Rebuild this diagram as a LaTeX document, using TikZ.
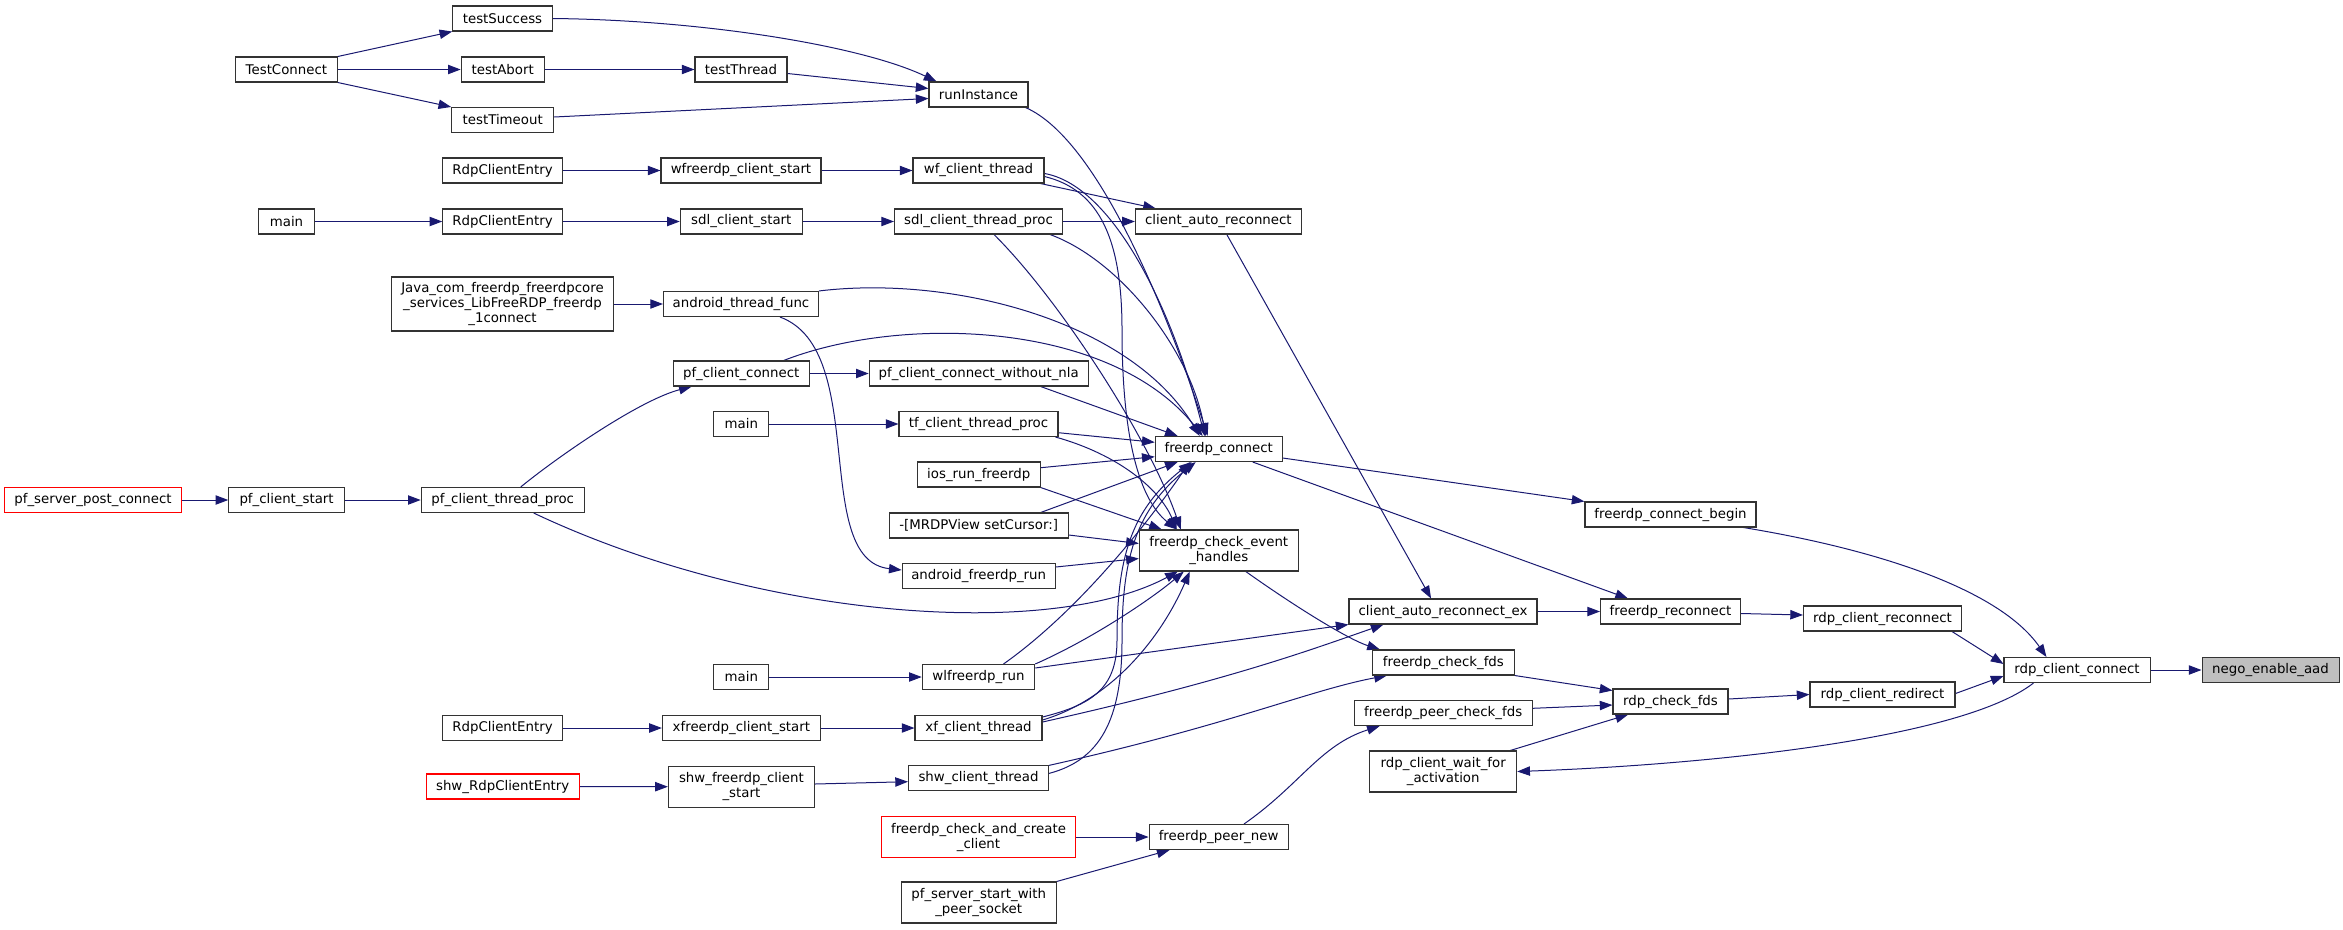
\documentclass[tikz,border=0pt]{standalone}
\usepackage{fontspec}
\setmainfont{DejaVu Sans}
\usetikzlibrary{arrows.meta,calc}
\definecolor{edgeblue}{HTML}{191970}
\definecolor{nodeborder}{HTML}{333333}
\definecolor{hifill}{HTML}{BFBFBF}
\pgfdeclarelayer{bg}
\pgfsetlayers{bg,main}
\tikzset{
  box/.style={draw=nodeborder, line width=0.8pt, fill=white, minimum height=18.75pt,
    inner sep=1pt, font=\fontsize{10pt}{11.25pt}\selectfont, align=center, text=black},
  redbox/.style={box, draw=red},
  bw/.style={minimum width=#1*0.75pt},
  tall/.style={minimum height=30.75pt},
  arr/.style={draw=edgeblue, line width=0.75pt, -{Triangle[length=9.5pt,width=7pt]}},
}
\begin{document}
\begin{tikzpicture}[x=0.75pt,y=-0.75pt]
\useasboundingbox (0,0) rectangle (2343,929);
% column 0/1
\node[redbox,bw=177] (psp) at (93,500) {pf\_server\_post\_connect};
\node[box,bw=102] (tconn) at (286.4,69.5) {TestConnect};
\node[box,bw=55.5] (mainA) at (286.5,221.5) {main};
\node[box,bw=115.6] (pcs) at (286.6,500) {pf\_client\_start};
% column 2
\node[box,bw=99.5] (tsucc) at (502.5,18.5) {testSuccess};
\node[box,bw=83] (tabort) at (502.7,69.5) {testAbort};
\node[box,bw=102] (ttime) at (502.7,120) {testTimeout};
\node[box,bw=119.4] (rceA) at (502.5,170.5) {RdpClientEntry};
\node[box,bw=119.4] (rceB) at (502.5,221.5) {RdpClientEntry};
\node[box,bw=222,minimum height=40.5pt] (java) at (502.5,304) {Java\_com\_freerdp\_freerdpcore\\\_services\_LibFreeRDP\_freerdp\\\_1connect};
\node[box,bw=163] (pctp) at (502.7,500) {pf\_client\_thread\_proc};
\node[box,bw=119.4] (rceC) at (502.5,728) {RdpClientEntry};
\node[redbox,bw=153] (shwrce) at (502.7,786.5) {shw\_RdpClientEntry};
% column 3
\node[box,bw=92] (tthread) at (741,69.5) {testThread};
\node[box,bw=160] (wfcs) at (741,170.5) {wfreerdp\_client\_start};
\node[box,bw=122] (sdlcs) at (741.3,221.5) {sdl\_client\_start};
\node[box,bw=155] (atf) at (741,304) {android\_thread\_func};
\node[box,bw=136] (pcc) at (741.2,373.5) {pf\_client\_connect};
\node[box,bw=55] (mainC) at (741.3,424) {main};
\node[box,bw=55] (mainB) at (741.3,677) {main};
\node[box,bw=158] (xfcs) at (741.4,728) {xfreerdp\_client\_start};
\node[box,bw=146,tall] (shwfcs) at (741.4,786.7) {shw\_freerdp\_client\\\_start};
% column 4
\node[box,bw=99] (runi) at (978.5,94.5) {runInstance};
\node[box,bw=131] (wfct) at (978.5,170.5) {wf\_client\_thread};
\node[box,bw=168] (sdlct) at (978.5,221.5) {sdl\_client\_thread\_proc};
\node[box,bw=219] (pcwn) at (978.7,373.5) {pf\_client\_connect\_without\_nla};
\node[box,bw=159] (tfct) at (978.5,424) {tf\_client\_thread\_proc};
\node[box,bw=123] (ios) at (978.7,474.5) {ios\_run\_freerdp};
\node[box,bw=179] (mrdp) at (978.7,525.5) {-[MRDPView setCursor:]};
\node[box,bw=153] (afr) at (978.7,576) {android\_freerdp\_run};
\node[box,bw=112.5] (wl) at (978.5,677) {wlfreerdp\_run};
\node[box,bw=127] (xfct) at (978.5,728) {xf\_client\_thread};
\node[box,bw=140] (shwct) at (978.5,778.4) {shw\_client\_thread};
\node[redbox,bw=194,tall] (fcacc) at (978.5,837) {freerdp\_check\_and\_create\\\_client};
\node[box,bw=155,tall] (pssp) at (978.7,902.5) {pf\_server\_start\_with\\\_peer\_socket};
% column 5
\node[box,bw=166] (car) at (1218.4,221.5) {client\_auto\_reconnect};
\node[box,bw=127] (fc) at (1218.7,449) {freerdp\_connect};
\node[box,bw=159,tall] (ceh) at (1218.8,550.5) {freerdp\_check\_event\\\_handles};
\node[box,bw=139] (fpn) at (1218.6,837) {freerdp\_peer\_new};
% column 6
\node[box,bw=188] (care) at (1443,611.5) {client\_auto\_reconnect\_ex};
\node[box,bw=142] (cfds) at (1443.4,662.5) {freerdp\_check\_fds};
\node[box,bw=178] (fpcf) at (1443.2,713) {freerdp\_peer\_check\_fds};
\node[box,bw=147,tall] (rcwfa) at (1443.2,771.5) {rdp\_client\_wait\_for\\\_activation};
% column 7
\node[box,bw=171] (fcb) at (1670.5,514.5) {freerdp\_connect\_begin};
\node[box,bw=140] (frc) at (1670.5,611.5) {freerdp\_reconnect};
\node[box,bw=115] (rcf) at (1670.5,701.5) {rdp\_check\_fds};
% column 8+
\node[box,bw=158] (rcr) at (1882.5,618.5) {rdp\_client\_reconnect};
\node[box,bw=145] (rcred) at (1882.5,694.5) {rdp\_client\_redirect};
\node[box,bw=146] (rcc) at (2077,670) {rdp\_client\_connect};
\node[box,bw=137,fill=hifill] (nego) at (2270.5,670) {nego\_enable\_aad};

\begin{pgfonlayer}{bg}
% test group
\draw[arr] (tconn.north east) -- (tsucc.south west);
\draw[arr] (tconn.east) -- (tabort.west);
\draw[arr] (tconn.south east) -- (ttime.north west);
\draw[arr] (tsucc.east) .. controls (700,20) and (860,45) .. ($(runi.north west)+(8,0)$);
\draw[arr] (tabort.east) -- (tthread.west);
\draw[arr] ($(tthread.east)+(0,4)$) -- ($(runi.west)+(0,-6)$);
\draw[arr] ($(ttime.east)+(0,-3)$) -- ($(runi.west)+(0,4)$);
% chains
\draw[arr] (rceA.east) -- (wfcs.west);
\draw[arr] (mainA.east) -- (rceB.west);
\draw[arr] (rceB.east) -- (sdlcs.west);
\draw[arr] (wfcs.east) -- (wfct.west);
\draw[arr] (sdlcs.east) -- (sdlct.west);
\draw[arr] (java.east) -- (atf.west);
\draw[arr] (psp.east) -- (pcs.west);
\draw[arr] (pcs.east) -- (pctp.west);
\draw[arr] (pcc.east) -- (pcwn.west);
\draw[arr] (mainC.east) -- (tfct.west);
\draw[arr] (mainB.east) -- (wl.west);
\draw[arr] (rceC.east) -- (xfcs.west);
\draw[arr] (shwrce.east) -- (shwfcs.west);
\draw[arr] (xfcs.east) -- (xfct.west);
\draw[arr] ($(shwfcs.east)+(0,-2.7)$) -- ($(shwct.west)+(0,3.3)$);
\draw[arr] (fcacc.east) -- (fpn.west);
% client_auto_reconnect
\draw[arr] ($(wfct.south east)+(-4,0)$) -- ($(car.north west)+(21,0)$);
\draw[arr] (sdlct.east) -- (car.west);
% into freerdp_connect from above
\draw[arr] ($(runi.south east)+(-3,0)$) .. controls (1100,140) and (1170,320) .. ($(fc.north west)+(53,0)$);
\draw[arr] ($(wfct.east)+(0,3)$) .. controls (1110,185) and (1170,300) .. ($(fc.north west)+(50,0)$);
\draw[arr] ($(sdlct.south east)+(-13,0)$) .. controls (1120,260) and (1190,350) .. ($(fc.north west)+(51,0)$);
\draw[arr] (atf.north east) .. controls (950,275) and (1130,320) .. ($(fc.north west)+(45,0)$);
\draw[arr] ($(pcc.north)+(42.5,0)$) .. controls (900,315) and (1110,320) .. ($(fc.north west)+(48,0)$);
\draw[arr] ($(pcwn.south east)+(-48,0)$) -- ($(fc.north west)+(23,0)$);
\draw[arr] ($(tfct.east)+(0,8.7)$) -- ($(fc.west)+(0,-6.7)$);
\draw[arr] ($(ios.east)+(0,-6.8)$) -- ($(fc.west)+(0,7.7)$);
% into freerdp_connect from below
\draw[arr] ($(mrdp.north east)+(-28,0)$) -- ($(fc.south west)+(23,0)$);
\draw[arr] ($(wl.north)+(25,0)$) .. controls (1080,610) and (1150,520) .. ($(fc.south west)+(35,0)$);
\draw[arr] ($(xfct.east)+(0,-11)$) .. controls (1090,705) and (1117,690) .. (1117,640) .. controls (1117,560) and (1130,510) .. ($(fc.south west)+(37,0)$);
\draw[arr] ($(shwct.east)+(0,-5)$) .. controls (1100,760) and (1122,720) .. (1122,640) .. controls (1122,560) and (1135,510) .. ($(fc.south west)+(41,0)$);
% into freerdp_check_event_handles
\draw[arr] ($(wfct.east)+(0,6)$) .. controls (1100,190) and (1122,240) .. (1122,330) .. controls (1122,440) and (1140,500) .. ($(ceh.north west)+(38,0)$);
\draw[arr] ($(sdlct.south)+(15.5,0)$) .. controls (1060,300) and (1150,440) .. ($(ceh.north west)+(42,0)$);
\draw[arr] ($(tfct.south east)+(-3,0)$) .. controls (1120,455) and (1160,490) .. ($(ceh.north west)+(38,0)$);
\draw[arr] (ios.south east) -- ($(ceh.north west)+(23,0)$);
\draw[arr] ($(mrdp.east)+(0,9.5)$) -- ($(ceh.west)+(0,-7)$);
\draw[arr] ($(afr.east)+(0,-9)$) -- ($(ceh.west)+(0,8)$);
\draw[arr] ($(pctp.south)+(31,0)$) .. controls (760,620) and (1050,640) .. ($(ceh.south west)+(39,0)$);
\draw[arr] (wl.north east) .. controls (1090,640) and (1150,600) .. ($(ceh.south west)+(45,0)$);
\draw[arr] ($(xfct.east)+(0,-8)$) .. controls (1110,700) and (1160,640) .. ($(ceh.south west)+(51,0)$);
% android / pf
\draw[arr] ($(atf.south)+(39,0)$) .. controls (870,350) and (810,560) .. ($(afr.west)+(0,-6)$);
\draw[arr] ($(pctp.north)+(18,0)$) .. controls (560,455) and (640,400) .. ($(pcc.south west)+(19,0)$);
% client_auto_reconnect_ex
\draw[arr] ($(wl.east)+(0,-9)$) -- (care.south west);
\draw[arr] ($(xfct.east)+(0,-6)$) .. controls (1230,680) and (1310,650) .. ($(care.south west)+(35,0)$);
\draw[arr] ($(car.south)+(8.4,0)$) -- ($(care.north west)+(82.6,0)$);
% freerdp_check_fds
\draw[arr] (shwct.north east) .. controls (1230,725) and (1310,690) .. ($(cfds.south west)+(15,0)$);
\draw[arr] ($(ceh.south)+(27,0)$) .. controls (1300,610) and (1350,640) .. ($(cfds.north west)+(8,0)$);
% peer
\draw[arr] (pssp.north east) -- ($(fpn.south west)+(21,0)$);
\draw[arr] ($(fpn.north)+(25.4,0)$) .. controls (1300,785) and (1320,745) .. ($(fpcf.south west)+(26,0)$);
% right side
\draw[arr] ($(fc.east)+(0,9)$) -- (fcb.north west);
\draw[arr] ($(fc.south east)+(-30,0)$) -- ($(frc.north west)+(28,0)$);
\draw[arr] (care.east) -- (frc.west);
\draw[arr] ($(frc.east)+(0,2)$) -- ($(rcr.west)+(0,-3.5)$);
\draw[arr] (cfds.south east) -- ($(rcf.west)+(0,-11)$);
\draw[arr] ($(fpcf.east)+(0,-4.7)$) -- ($(rcf.west)+(0,3.5)$);
\draw[arr] ($(rcwfa.north east)+(-7,0)$) -- ($(rcf.south west)+(15.7,0)$);
\draw[arr] ($(rcf.east)+(0,-2.5)$) -- (rcred.west);
\draw[arr] ($(fcb.south east)+(-13,0)$) .. controls (1880,550) and (2000,590) .. ($(rcc.north west)+(43,0)$);
\draw[arr] ($(rcr.south east)+(-10,0)$) -- ($(rcc.west)+(0,-6)$);
\draw[arr] ($(rcred.east)+(0,-1)$) -- ($(rcc.west)+(0,6)$);
\draw[arr] ($(rcc.south west)+(30,0)$) .. controls (1960,740) and (1700,765) .. (rcwfa.east);
\draw[arr] (rcc.east) -- (nego.west);
\end{pgfonlayer}
\end{tikzpicture}
\end{document}
